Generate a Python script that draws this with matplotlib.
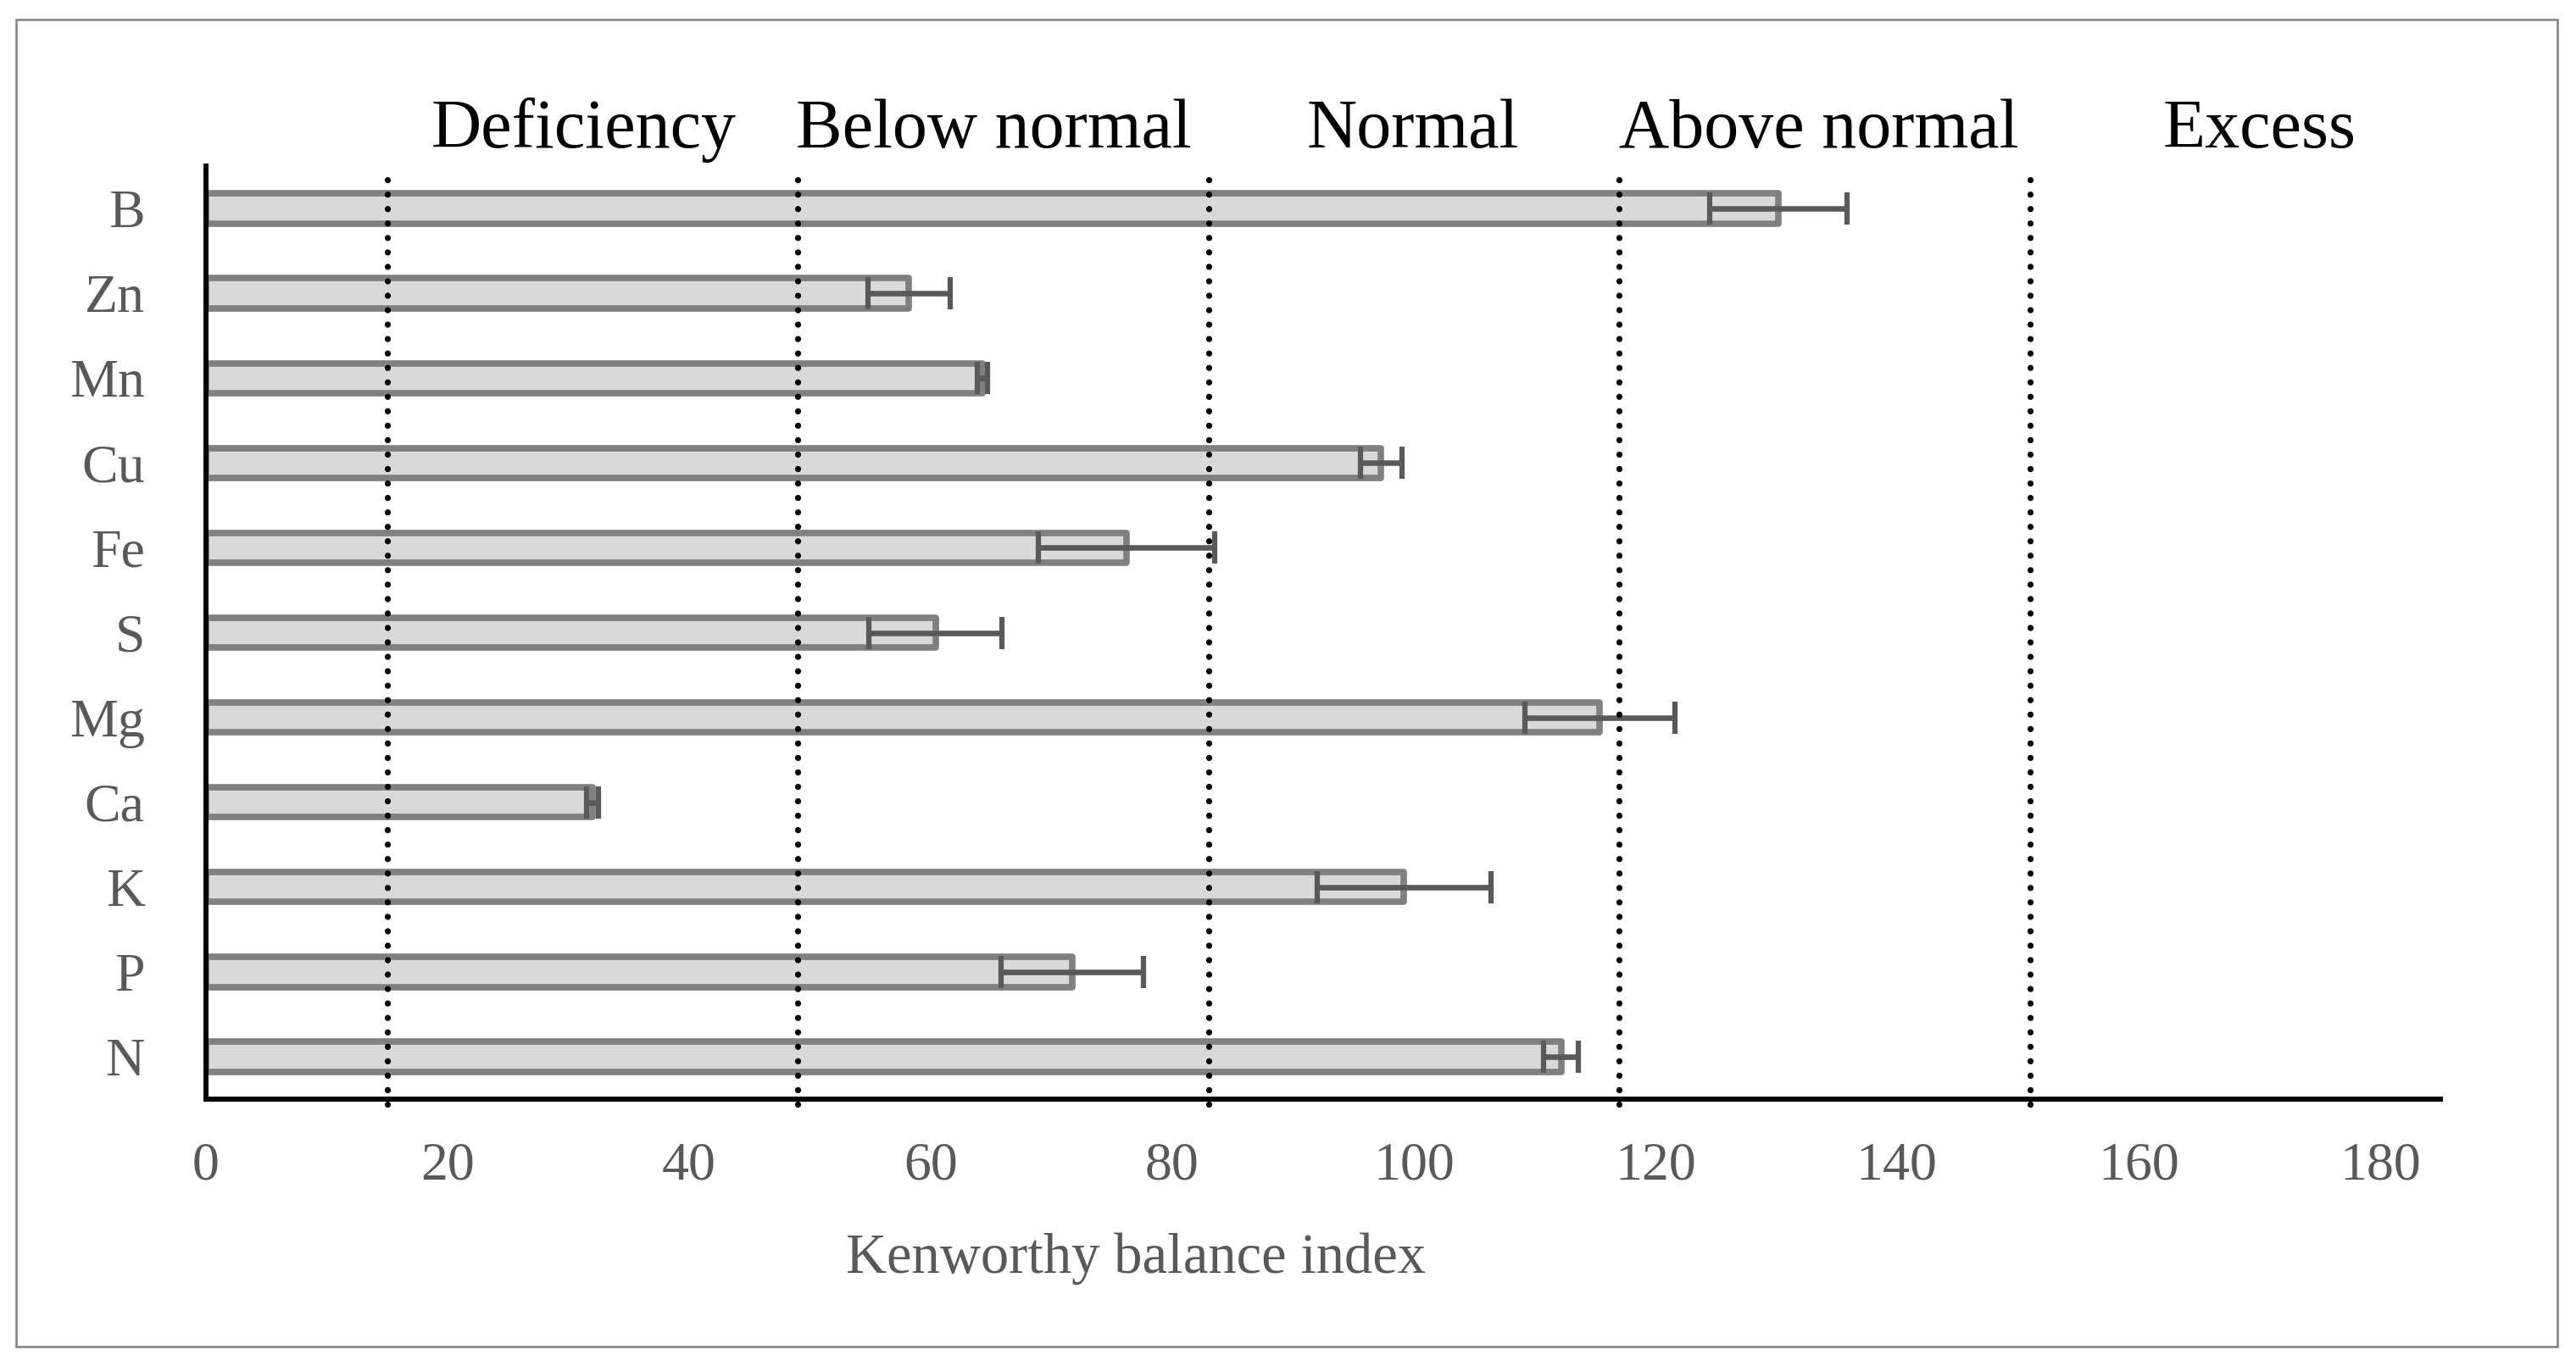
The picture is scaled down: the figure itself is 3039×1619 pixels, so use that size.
import matplotlib
matplotlib.use("Agg")
import matplotlib.pyplot as plt
from matplotlib.patches import Rectangle
import numpy as np

plt.rcParams['font.family'] = ['Liberation Serif', 'DejaVu Serif']

# nutrients from bottom to top
nutrients = ["N", "P", "K", "Ca", "Mg", "S", "Fe", "Cu", "Mn", "Zn", "B"]
kbi = [112.2, 71.7, 99.2, 32.0, 115.4, 60.4, 76.2, 97.3, 64.3, 58.2, 130.2]
kbi_err = [1.45, 5.9, 7.2, 0.5, 6.2, 5.5, 7.3, 1.7, 0.4, 3.4, 5.7]

# class limits (dotted lines) and class names
limits = [15, 49, 83, 117, 151]
classes = ["Deficiency", "Below normal", "Normal", "Above normal", "Excess"]
class_pos = [31.3, 65.2, 99.9, 133.5, 170]

xticks = [0, 20, 40, 60, 80, 100, 120, 140, 160, 180]

W, H = 3039, 1619
fig = plt.figure(figsize=(W / 100, H / 100), dpi=100)
ax = fig.add_axes([243 / W, 1 - 1297 / H, (2879 - 243) / W, (1297 - 196) / H])

y = np.arange(len(nutrients))
ax.barh(y, kbi, height=0.353, color='#d9d9d9', edgecolor='#808080',
        linewidth=5.5, joinstyle='round', zorder=2)
ax.errorbar(kbi, y, xerr=kbi_err, fmt='none', ecolor='#595959',
            elinewidth=4.7, capsize=14, capthick=4.5, zorder=3)

for lim in limits:
    ax.axvline(lim, ymin=-0.005, ymax=1, color='black', lw=5.2,
               linestyle=(0, (0.01, 2.35)), dash_capstyle='round',
               zorder=4, clip_on=False)

for name, pos in zip(classes, class_pos):
    ax.text(pos, 1.02, name, transform=ax.get_xaxis_transform(),
            ha='center', va='baseline', fontsize=59, color='black')

ax.set_xlim(0, 185)
ax.set_ylim(-0.5, len(nutrients) - 0.5)
ax.set_xticks(xticks)
ax.set_yticks(y)
ax.set_yticklabels(nutrients)
ax.tick_params(axis='both', length=0, labelsize=46, labelcolor='#595959')
ax.tick_params(axis='x', pad=36)
ax.tick_params(axis='y', pad=52)

for s in ['top', 'right']:
    ax.spines[s].set_visible(False)
for s in ['left', 'bottom']:
    ax.spines[s].set_linewidth(4.3)
    ax.spines[s].set_color('black')
    ax.spines[s].set_zorder(5)

fig.text(998 / W, 1 - 1502 / H, "Kenworthy balance index", ha='left',
         va='baseline', fontsize=48, color='#595959')

# outer frame
fig.add_artist(Rectangle((19 / W, 1 - 1589 / H), (3017 - 19) / W, (1589 - 23) / H,
                         transform=fig.transFigure, fill=False,
                         edgecolor='#808080', lw=1.8))

fig.savefig("out.png", dpi=100, facecolor='white')
